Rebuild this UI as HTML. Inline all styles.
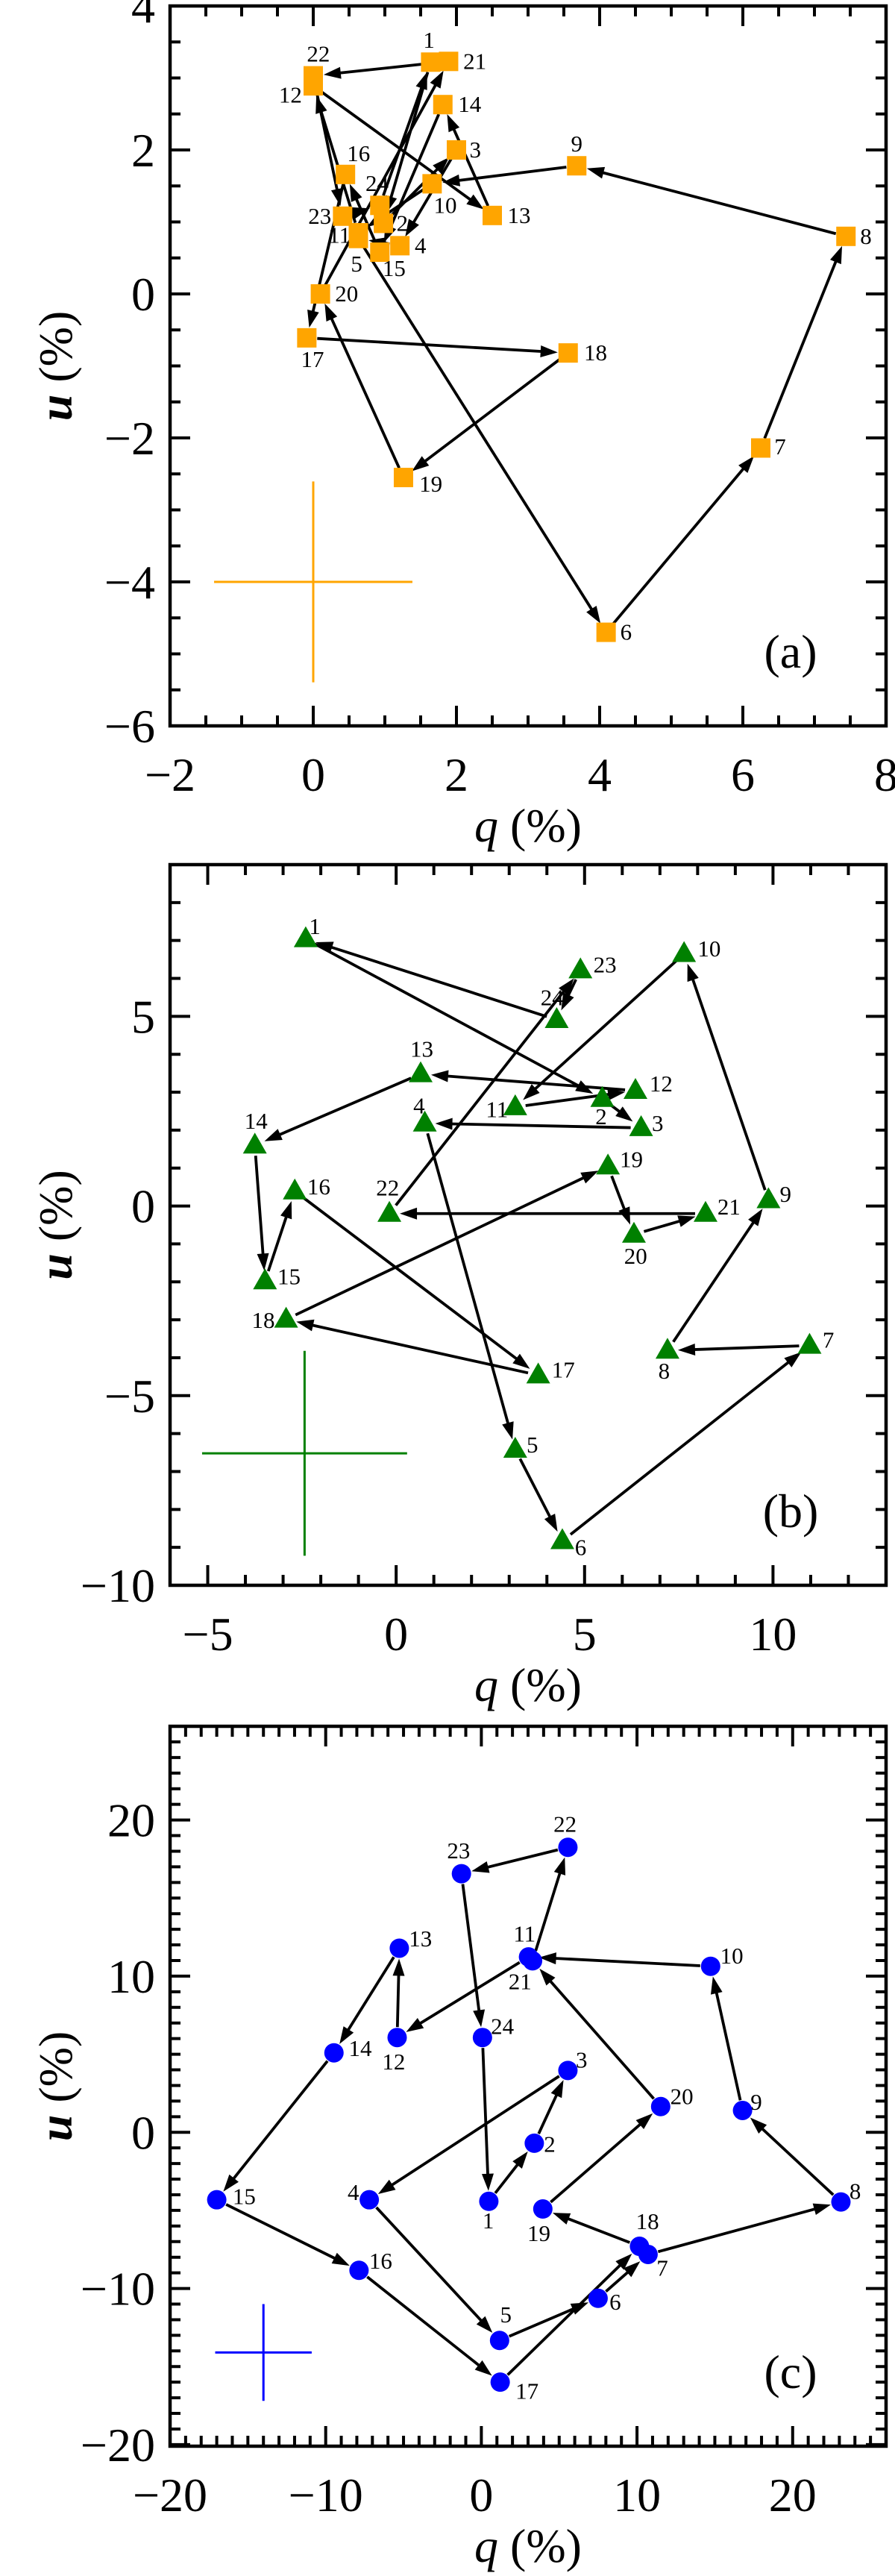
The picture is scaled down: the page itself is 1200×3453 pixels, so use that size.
<!DOCTYPE html>
<html><head><meta charset="utf-8">
<style>
html,body{margin:0;padding:0;background:#fff;}
svg{display:block;}
svg text{font-family:"Liberation Serif","Times New Roman",serif;}
</style></head>
<body>
<svg id="fig" width="1200" height="3453" viewBox="0 0 1200 3453" xmlns="http://www.w3.org/2000/svg" font-family="Liberation Serif, serif"></svg>
<script>
// ---------- DATA ----------
const aQ = [1.64,0.98,2.0,1.21,0.63,4.09,6.25,7.44,3.68,1.66,0.63,0.0,2.5,1.81,0.93,0.45,-0.09,3.56,1.26,0.10,1.89,0.0,0.41,0.93];
const aU = [3.22,0.98,2.0,0.67,0.77,-4.70,-2.14,0.80,1.78,1.53,0.85,2.89,1.09,2.63,0.58,1.66,-0.61,-0.82,-2.55,0.0,3.23,3.03,1.08,1.23];
const bQ = [-2.40,5.47,6.50,0.76,3.16,4.41,10.97,7.20,9.88,7.64,3.16,6.35,0.65,-3.75,-3.48,-2.69,3.77,-2.92,5.62,6.31,8.21,-0.18,4.89,4.26];
const bU = [7.04,2.83,2.06,2.18,-6.42,-8.83,-3.68,-3.81,0.16,6.65,2.61,3.04,3.48,1.60,-1.98,0.39,-4.46,-2.99,1.05,-0.75,-0.20,-0.20,6.22,4.91];
const cQ = [0.48,3.40,5.56,-7.20,1.17,7.50,10.71,23.1,16.78,14.73,3.03,-5.41,-5.27,-9.47,-17.0,-7.86,1.21,10.16,3.95,11.52,3.29,5.56,-1.28,0.07];
const cU = [-4.42,-0.70,3.96,-4.32,-13.33,-10.63,-7.82,-4.46,1.40,10.63,11.23,6.07,11.79,5.09,-4.32,-8.84,-16.0,-7.30,-4.91,1.65,10.98,18.25,16.56,6.07];
const aXTicks = [-2,0,2,4,6,8];
const aYTicks = [-6,-4,-2,0,2,4];
const bXTicks = [-5,0,5,10];
const bYTicks = [-10,-5,0,5];
const cXTicks = [-20,-10,0,10,20];
const cYTicks = [-20,-10,0,10,20];
const aErr = [0, -4, 1.385, 1.395];
const bErr = [-2.43, -6.52, 2.72, 2.70];
const cErr = [-14.0, -14.1, 3.1, 3.1];

const aLab = [[-3,-40],[33,0],[33,0],[36,0],[-3,47],[35,0],[34,-2],[35,0],[0,-40],[23,40],[-33,5],[-40,17],[47,0],[47,0],[25,30],[23,-38],[10,40],[48,0],[48,12],[46,0],[46,0],[9,-40],[-40,0],[-5,-40]];
const bLab = [[16,-23],[-2,33],[29,-8],[-10,-32],[30,-8],[32,12],[33,-10],[-6,38],[30,-10],[44,-9],[-32,5],[45,-12],[2,-45],[2,-44],[42,-8],[42,-8],[44,-9],[-40,2],[41,-12],[3,40],[41,-12],[-3,-47],[43,-9],[-8,-40]];
const cLab = [[-1,36],[27,2],[24,-19],[-28,-13],[11,-47],[30,7],[25,25],[25,-19],[24,-15],[37,-19],[-7,-42],[-6,45],[37,-17],[46,-8],[48,-6],[38,-17],[47,17],[14,-45],[-7,45],[37,-18],[-22,38],[-5,-42],[-5,-42],[35,-20]];

const NS = "http://www.w3.org/2000/svg";
const FONT = '"Liberation Serif", "Times New Roman", serif';
const svg = document.getElementById('fig');
function mk(tag, attrs, parent){
  const e = document.createElementNS(NS, tag);
  for (const k in attrs) e.setAttribute(k, attrs[k]);
  if (tag === 'text') e.setAttribute('style', 'font-family:' + FONT);
  (parent||svg).appendChild(e);
  return e;
}

function panel(cfg){
  const g = mk('g',{});
  
  
  const L=228, R=1188, T=cfg.top, B=cfg.bottom;
  const sx = v => L + (v - cfg.xmin) / (cfg.xmax - cfg.xmin) * (R - L);
  const sy = v => B - (v - cfg.ymin) / (cfg.ymax - cfg.ymin) * (B - T);
  const fr = mk('rect',{x:L,y:T,width:R-L,height:B-T,fill:'none',stroke:'#000','stroke-width':4.5},g);
  
  
  let tp = '';
  for (let v = Math.ceil(cfg.xmin/cfg.xminor)*cfg.xminor; v <= cfg.xmax + 1e-9; v += cfg.xminor){
    const x = sx(v); const major = cfg.xt.some(t=>Math.abs(t-v)<1e-6); const len = major?27:14;
    tp += `M${x},${B}v${-len}M${x},${T}v${len}`;
  }
  for (let v = Math.ceil(cfg.ymin/cfg.yminor)*cfg.yminor; v <= cfg.ymax + 1e-9; v += cfg.yminor){
    const y = sy(v); const major = cfg.yt.some(t=>Math.abs(t-v)<1e-6); const len = major?27:14;
    tp += `M${L},${y}h${len}M${R},${y}h${-len}`;
  }
  const tk = mk('path',{d:tp,stroke:'#000','stroke-width':4,fill:'none'},g);
  
  
  cfg.xt.forEach(v=>{
    const t = mk('text',{x:sx(v),y:B+87,'font-size':64,'text-anchor':'middle'},g);
    t.textContent = (v<0?'\u2212':'') + Math.abs(v);
    
    
  });
  cfg.yt.forEach(v=>{
    const t = mk('text',{x:208,y:sy(v)+22,'font-size':64,'text-anchor':'end'},g);
    t.textContent = (v<0?'\u2212':'') + Math.abs(v);
    
    
  });
  const xt = mk('text',{x:(L+R)/2,y:B+155,'font-size':64,'text-anchor':'middle'},g);
  xt.innerHTML = '<tspan font-style="italic">q</tspan> (%)';
  
  
  const yc = (T+B)/2;
  const yt = mk('text',{x:0,y:0,'font-size':64,'text-anchor':'middle',transform:`translate(96,${yc}) rotate(-90)`},g);
  yt.innerHTML = '<tspan font-style="italic" font-weight="bold">u</tspan> (%)';
  
  
  const pl = mk('text',{x:1060,y:B-78,'font-size':64,'text-anchor':'middle'},g);
  pl.textContent = '(' + cfg.id + ')';
  
  
  const e = cfg.err;
  const ec = mk('path',{d:`M${sx(e[0]-e[2])},${sy(e[1])}H${sx(e[0]+e[2])}M${sx(e[0])},${sy(e[1]+e[3])}V${sy(e[1]-e[3])}`,stroke:cfg.color,'stroke-width':3,fill:'none'},g);
  
  
  const n = cfg.q.length;
  for (let i=0;i<n;i++){
    const j = (i+1)%n;
    const x0=sx(cfg.q[i]), y0=sy(cfg.u[i]), x1=sx(cfg.q[j]), y1=sy(cfg.u[j]);
    const dx=x1-x0, dy=y1-y0, d=Math.hypot(dx,dy);
    if (d < 30) continue;
    const ux=dx/d, uy=dy/d, s=14;
    const ax=x0+ux*s, ay=y0+uy*s, bx=x1-ux*s, by=y1-uy*s;
    const hl=23, hw=8;
    const hx=bx-ux*hl, hy=by-uy*hl;
    const ag = mk('g',{},g);
    
    
    mk('line',{x1:ax,y1:ay,x2:hx+ux*2,y2:hy+uy*2,stroke:'#000','stroke-width':3.8},ag);
    mk('polygon',{points:`${bx},${by} ${hx-uy*hw},${hy+ux*hw} ${hx+uy*hw},${hy-ux*hw}`,fill:'#000'},ag);
  }
  for (let i=0;i<n;i++){
    const x=sx(cfg.q[i]), y=sy(cfg.u[i]);
    let m;
    if (cfg.marker==='square') m = mk('rect',{x:x-13,y:y-13,width:26,height:26,fill:cfg.color},g);
    else if (cfg.marker==='tri') m = mk('polygon',{points:`${x},${y-17} ${x-16},${y+11} ${x+16},${y+11}`,fill:cfg.color},g);
    else m = mk('circle',{cx:x,cy:y,r:13,fill:cfg.color},g);
    
    
  }
  for (let i=0;i<n;i++){
    const x=sx(cfg.q[i]), y=sy(cfg.u[i]);
    const o = cfg.lab[i];
    const t = mk('text',{x:x+o[0]*0.765,y:y+o[1]*0.733+10,'font-size':31,'text-anchor':'middle'},g);
    t.textContent = String(i+1);
    
    
  }
}

panel({id:'a',top:8,bottom:973,xmin:-2,xmax:8,ymin:-6,ymax:4,xminor:0.5,yminor:0.5,xt:aXTicks,yt:aYTicks,
  q:aQ,u:aU,lab:aLab,err:aErr,color:'#FFA500',marker:'square'});
panel({id:'b',top:1159,bottom:2125,xmin:-6,xmax:13,ymin:-10,ymax:9,xminor:1,yminor:1,xt:bXTicks,yt:bYTicks,
  q:bQ,u:bU,lab:bLab,err:bErr,color:'#008000',marker:'tri'});
panel({id:'c',top:2314,bottom:3279,xmin:-20,xmax:26,ymin:-20.1,ymax:26,xminor:1,yminor:1,xt:cXTicks,yt:cYTicks,
  q:cQ,u:cU,lab:cLab,err:cErr,color:'#0000FF',marker:'circle'});
</script>
</body></html>
